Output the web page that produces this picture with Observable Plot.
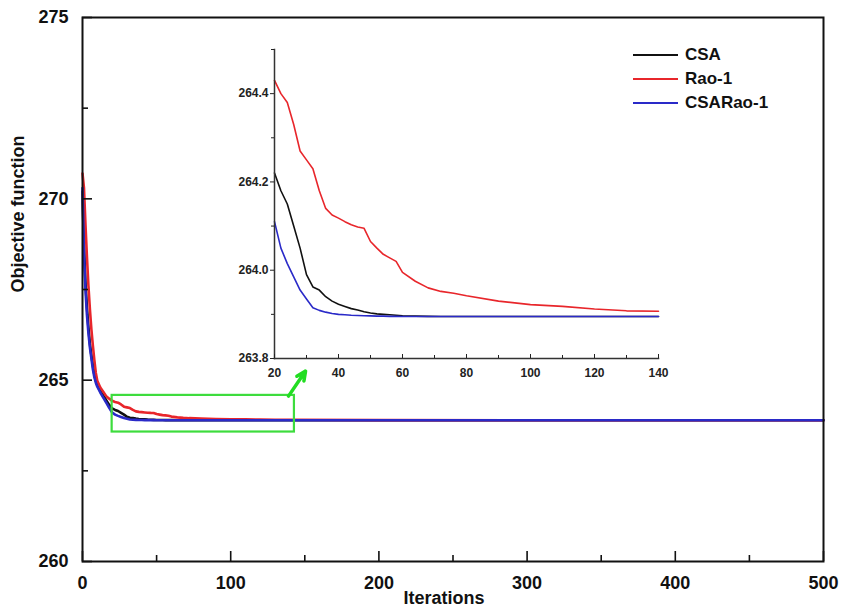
<!DOCTYPE html>
<html>
<head>
<meta charset="utf-8">
<script src="https://cdn.jsdelivr.net/npm/d3@7"></script>
<script src="https://cdn.jsdelivr.net/npm/@observablehq/plot@0.6"></script>
<style>
  html, body { margin: 0; padding: 0; background: white; }
  #chart { position: relative; width: 842px; height: 610px; font-family: "Liberation Sans", Arial, sans-serif; }
  #chart svg { position: absolute; }
  #legend { position: absolute; left: 633px; top: 43px; font-weight: bold; font-size: 17px; color: #111; }
  #legend .row { display: flex; align-items: center; height: 24px; }
  #legend .swatch { width: 45px; height: 2.5px; margin-right: 7px; }
</style>
</head>
<body>
<div id="chart"></div>
<script>
// Convergence history (objective function value per iteration)
const iterations = [0, 1, 2, 3, 4, 5, 6, 7, 8, 9, 10, 12, 14, 16, 18, 20, 22, 24, 26, 28, 30, 32, 34, 36, 38, 40, 42, 44, 46, 48, 50, 52, 54, 56, 58, 60, 64, 68, 72, 76, 80, 90, 100, 110, 120, 130, 140, 200, 300, 400, 500];

const csa = [270.2, 268.7, 267.7, 267.0, 266.45, 266.0, 265.68, 265.4, 265.15, 264.98, 264.86, 264.7, 264.58, 264.45, 264.32, 264.22, 264.18, 264.15, 264.1, 264.05, 263.99, 263.962, 263.955, 263.94, 263.93, 263.923, 263.918, 263.913, 263.91, 263.906, 263.903, 263.901, 263.9, 263.899, 263.898, 263.897, 263.896, 263.8955, 263.895, 263.895, 263.895, 263.895, 263.895, 263.895, 263.895, 263.895, 263.895, 263.895, 263.895, 263.895, 263.895];

const rao1 = [270.7, 270.3, 269.3, 268.4, 267.6, 266.95, 266.4, 265.95, 265.55, 265.2, 264.98, 264.8, 264.68, 264.56, 264.49, 264.43, 264.4, 264.38, 264.33, 264.27, 264.25, 264.23, 264.18, 264.14, 264.125, 264.118, 264.11, 264.103, 264.098, 264.095, 264.065, 264.05, 264.036, 264.028, 264.02, 263.995, 263.975, 263.96, 263.952, 263.948, 263.942, 263.93, 263.922, 263.918, 263.912, 263.908, 263.907, 263.898, 263.895, 263.895, 263.895];

const csaRao1 = [270.3, 268.5, 267.5, 266.8, 266.3, 265.9, 265.6, 265.3, 265.08, 264.93, 264.82, 264.66, 264.52, 264.38, 264.24, 264.11, 264.05, 264.015, 263.985, 263.955, 263.935, 263.915, 263.909, 263.905, 263.902, 263.9, 263.899, 263.898, 263.8975, 263.897, 263.8965, 263.896, 263.896, 263.8955, 263.8955, 263.895, 263.895, 263.895, 263.895, 263.895, 263.895, 263.895, 263.895, 263.895, 263.895, 263.895, 263.895, 263.895, 263.895, 263.895, 263.895];

const seriesNames = ["CSA", "Rao-1", "CSARao-1"];
const seriesColors = ["#111111", "#e8262b", "#2a2ac8"];
const seriesValues = [csa, rao1, csaRao1];

// Axis ticks
const xMajorTicks = [0, 100, 200, 300, 400, 500];
const xMinorTicks = [50, 150, 250, 350, 450];
const yMajorTicks = [260, 265, 270, 275];
const yMinorTicks = [262.5, 267.5, 272.5];

// Zoomed-in window shown in the inset
const zoomWindowX = [20, 143];
const zoomWindowY = [263.57, 264.58];
const zoomArrowX = [139, 150.5];
const zoomArrowY = [264.56, 265.25];

const insetXTicks = [20, 40, 60, 80, 100, 120, 140];
const insetXMinor = [30, 50, 70, 90, 110, 130];
const insetYTicks = [263.8, 264.0, 264.2, 264.4];
const insetYMinor = [263.9, 264.1, 264.3, 264.5];

// Long-format table built from the arrays above
const rows = seriesNames.flatMap((name, s) =>
  iterations.map((it, i) => ({series: name, iteration: it, value: seriesValues[s][i]}))
);
const insetRows = rows.filter(d => d.iteration >= 20 && d.iteration <= 140);
const color = {domain: seriesNames, range: seriesColors};

const main = Plot.plot({
  width: 842,
  height: 610,
  marginLeft: 82,
  marginRight: 19,
  marginTop: 17,
  marginBottom: 49,
  style: {fontFamily: "'Liberation Sans', Arial, sans-serif", fontSize: "18px", fontWeight: "bold", background: "white", color: "#111"},
  x: {domain: [0, 500]},
  y: {domain: [260, 275]},
  color,
  marks: [
    Plot.line(rows, {x: "iteration", y: "value", z: "series", stroke: "series", strokeWidth: 2.6}),
    Plot.rect([0], {x1: () => zoomWindowX[0], x2: () => zoomWindowX[1], y1: () => zoomWindowY[0], y2: () => zoomWindowY[1], fill: "none", stroke: "#3ddc3d", strokeWidth: 2.2}),
    Plot.arrow([0], {x1: () => zoomArrowX[0], x2: () => zoomArrowX[1], y1: () => zoomArrowY[0], y2: () => zoomArrowY[1], stroke: "#22dd22", strokeWidth: 3.5, headLength: 10, headAngle: 50}),
    Plot.frame({stroke: "#111", strokeWidth: 2}),
    Plot.axisX(xMajorTicks, {anchor: "bottom", tickSize: -10, tickPadding: 25, strokeWidth: 1.6, label: null}),
    Plot.axisX(xMinorTicks, {anchor: "bottom", tickSize: -6, tickFormat: () => "", strokeWidth: 1.6, label: null}),
    Plot.axisY(yMajorTicks, {anchor: "left", tickSize: -10, tickPadding: 24, strokeWidth: 1.6, label: null}),
    Plot.axisY(yMinorTicks, {anchor: "left", tickSize: -6, tickFormat: () => "", strokeWidth: 1.6, label: null}),
    Plot.text(["Iterations"], {frameAnchor: "bottom", dy: 37, dx: -9, lineAnchor: "middle", fill: "#111"}),
    Plot.text(["Objective function"], {frameAnchor: "left", dx: -64, dy: 3, rotate: -90, lineAnchor: "middle", fill: "#111"})
  ]
});

// Inset: close-up of iterations 20–140
const inset = Plot.plot({
  width: 434,
  height: 344,
  marginLeft: 40,
  marginRight: 10,
  marginTop: 5,
  marginBottom: 30,
  style: {fontFamily: "'Liberation Sans', Arial, sans-serif", fontSize: "12px", fontWeight: "bold", background: "transparent", color: "#222", overflow: "visible"},
  x: {domain: [20, 140]},
  y: {domain: [263.8, 264.5]},
  color,
  marks: [
    Plot.line(insetRows, {x: "iteration", y: "value", z: "series", stroke: "series", strokeWidth: 1.6}),
    Plot.frame({anchor: "left", stroke: "#333", strokeWidth: 1.5}),
    Plot.frame({anchor: "bottom", stroke: "#333", strokeWidth: 1.5}),
    Plot.axisX(insetXTicks, {anchor: "bottom", tickSize: -4, tickPadding: 14, label: null}),
    Plot.axisX(insetXMinor, {anchor: "bottom", tickSize: -3, tickFormat: () => "", label: null}),
    Plot.axisY(insetYTicks, {anchor: "left", tickSize: 4, tickPadding: 2, tickFormat: d3.format(".1f"), label: null}),
    Plot.axisY(insetYMinor, {anchor: "left", tickSize: 3, tickFormat: () => "", label: null})
  ]
});

const chart = document.getElementById("chart");
main.style.left = "0px";
main.style.top = "0px";
inset.style.left = "234px";
inset.style.top = "44px";
chart.appendChild(main);
chart.appendChild(inset);

// Legend
const legend = document.createElement("div");
legend.id = "legend";
seriesNames.forEach((name, i) => {
  const row = document.createElement("div");
  row.className = "row";
  const sw = document.createElement("div");
  sw.className = "swatch";
  sw.style.background = seriesColors[i];
  const label = document.createElement("span");
  label.textContent = name;
  row.appendChild(sw);
  row.appendChild(label);
  legend.appendChild(row);
});
chart.appendChild(legend);
</script>
</body>
</html>
